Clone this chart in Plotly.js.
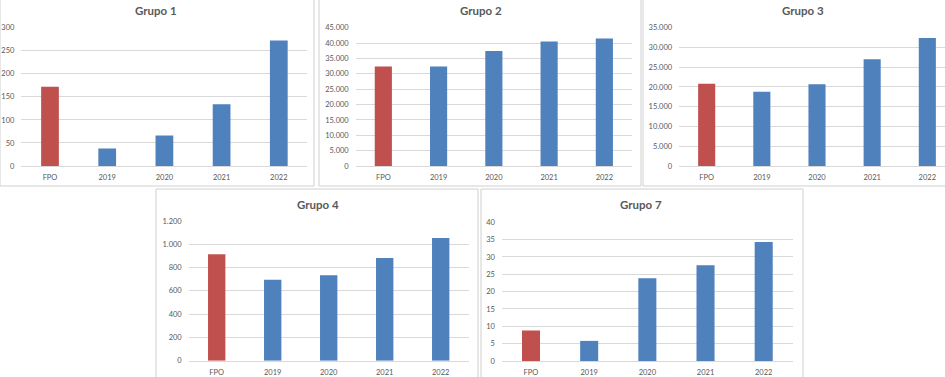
<!DOCTYPE html>
<html>
<head>
<meta charset="utf-8">
<script src="https://cdn.plot.ly/plotly-3.0.1.min.js"></script>
<style>html,body{margin:0;padding:0;background:#fff;}#chart{width:945px;height:377px;}</style>
</head>
<body>
<div id="chart"></div>
<script>
// ---- data ----
const categories = ['FPO', '2019', '2020', '2021', '2022'];
const grupo1 = [172, 38, 66, 134, 272];
const grupo2 = [32400, 32400, 37400, 40500, 41500];
const grupo3 = [20800, 18800, 20700, 27000, 32400];
const grupo4 = [914, 696, 733, 882, 1054];
const grupo7 = [8.8, 5.8, 23.9, 27.6, 34.3];
const titles = ['Grupo 1', 'Grupo 2', 'Grupo 3', 'Grupo 4', 'Grupo 7'];
const yMax = [300, 45000, 35000, 1200, 40];
const yStep = [50, 5000, 5000, 200, 5];

// ---- styling / layout (pixel geometry) ----
const W = 945, H = 377;
const RED = '#C0504D', BLUE = '#4F81BD';
const TXT = '#595959', GRID = '#D9D9D9';
const FONT = 'Lato, "Liberation Sans", sans-serif';
// plot areas: [left, right, top, bottom] in px, plus visible x-range end
const panels = [
  {x0: 21.4, x1: 307.4, y0: 27.7, y1: 166, rEnd: 4.5},
  {x0: 355.7, x1: 632, y0: 27.7, y1: 166, rEnd: 4.5},
  {x0: 679.1, x1: 945, y0: 27.7, y1: 166, rEnd: 4.5 - (954.9 - 945) / 55.15},
  {x0: 188.7, x1: 468.7, y0: 221, y1: 360.7, rEnd: 4.5},
  {x0: 501.9, x1: 792.8, y0: 222.3, y1: 361, rEnd: 4.5}
];
const titlePos = [[156, 10], [480.7, 10], [803, 10], [317.7, 204], [640.7, 204.3]];
const frames = [[0, 314, -2, 186], [319, 641, -2, 186], [643, 947, -2, 186], [156, 478, 189, 379], [481, 803, 189, 379]];

const series = [grupo1, grupo2, grupo3, grupo4, grupo7];
const colors = categories.map((c, i) => i === 0 ? RED : BLUE);

const data = [];
const layout = {
  width: W, height: H,
  margin: {l: 0, r: 0, t: 0, b: 0, pad: 0},
  paper_bgcolor: '#ffffff', plot_bgcolor: '#ffffff',
  showlegend: false,
  separators: ',.',
  bargap: 0.69,
  font: {family: FONT, color: TXT, size: 7.5},
  annotations: [],
  shapes: []
};

series.forEach((vals, i) => {
  const n = i === 0 ? '' : String(i + 1);
  const p = panels[i];
  data.push({
    type: 'bar', x: categories, y: vals,
    xaxis: 'x' + n, yaxis: 'y' + n,
    marker: {color: colors, line: {width: 0}},
    hoverinfo: 'x+y'
  });
  layout['xaxis' + n] = {
    domain: [p.x0 / W, Math.min(1, p.x1 / W)],
    anchor: 'y' + n,
    type: 'category',
    range: [-0.5, p.rEnd],
    showgrid: false, zeroline: false,
    showline: true, linecolor: GRID, linewidth: 1,
    ticks: '', ticklabelstandoff: 4,
    tickfont: {family: FONT, size: 7.5, color: TXT},
    fixedrange: true
  };
  layout['yaxis' + n] = {
    domain: [1 - p.y1 / H, 1 - p.y0 / H],
    anchor: 'x' + n,
    range: [0, yMax[i]],
    dtick: yStep[i], tick0: 0,
    tickformat: ',d',
    showgrid: true, gridcolor: GRID, gridwidth: 1,
    zeroline: false, showline: false,
    ticks: '', ticklabelstandoff: 6,
    tickfont: {family: FONT, size: 7.5, color: TXT},
    fixedrange: true
  };
  layout.annotations.push({
    text: '<b>' + titles[i] + '</b>',
    xref: 'paper', yref: 'paper',
    x: titlePos[i][0] / W, y: 1 - titlePos[i][1] / H,
    xanchor: 'center', yanchor: 'middle', showarrow: false,
    font: {family: FONT, size: 11.5, color: TXT}
  });
  const f = frames[i];
  layout.shapes.push({
    type: 'rect', xref: 'paper', yref: 'paper',
    x0: f[0] / W, x1: f[1] / W, y0: 1 - f[3] / H, y1: 1 - f[2] / H,
    line: {color: '#D0D0D0', width: 1}, fillcolor: 'rgba(0,0,0,0)', layer: 'below'
  });
});

Plotly.newPlot('chart', data, layout, {displayModeBar: false, staticPlot: true});
</script>
</body>
</html>
